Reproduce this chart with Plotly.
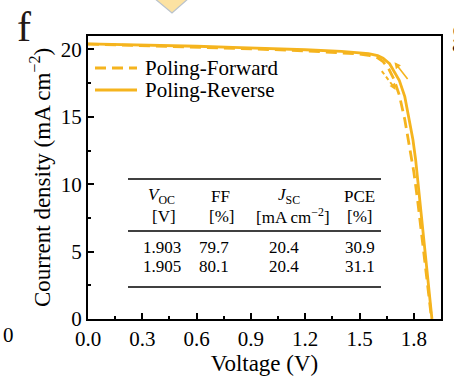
import plotly.graph_objects as go

# ---- data ----
v_reverse = [0, 0.2, 0.4, 0.6, 0.8, 1.0, 1.2, 1.4, 1.5, 1.55, 1.6, 1.63, 1.666, 1.7,
             1.72, 1.75, 1.776, 1.795, 1.81, 1.831, 1.85, 1.868, 1.885, 1.9]
j_reverse = [20.42, 20.37, 20.31, 20.24, 20.16, 20.08, 19.98, 19.86, 19.77, 19.7, 19.55,
             19.35, 18.94, 18.2, 17.7, 16.5, 14.7, 13.3, 11.8, 9.06, 6.7, 4.1, 2.0, 0]

v_forward = [0, 0.2, 0.4, 0.6, 0.8, 1.0, 1.2, 1.4, 1.5, 1.55, 1.6, 1.63, 1.66, 1.69,
             1.72, 1.75, 1.78, 1.8, 1.82, 1.84, 1.86, 1.88, 1.898]
j_forward = [20.4, 20.33, 20.26, 20.18, 20.09, 20.0, 19.9, 19.76, 19.66, 19.57, 19.38,
             19.1, 18.6, 17.8, 16.6, 14.8, 12.6, 10.9, 8.9, 6.7, 4.5, 2.3, 0]

series_names = ["Poling-Forward", "Poling-Reverse"]

table_header1 = ["<i>V</i><sub>OC</sub>", "FF", "<i>J</i><sub>SC</sub>", "PCE"]
table_header2 = ["[V]", "[%]", "[mA cm<sup>\u22122</sup>]", "[%]"]
table_rows = [["1.903", "79.7", "20.4", "30.9"],
              ["1.905", "80.1", "20.4", "31.1"]]

x_ticks = [0.0, 0.3, 0.6, 0.9, 1.2, 1.5, 1.8]
x_ticklabels = ["0.0", "0.3", "0.6", "0.9", "1.2", "1.5", "1.8"]
y_ticks = [0, 5, 10, 15, 20]

# ---- style ----
COL = "#F5B41E"
FONT = "Times New Roman, Liberation Serif, serif"
W, H = 454, 390
L, R, T, B = 88, 13, 36, 71
PW, PH = W - L - R, H - T - B


def px(xp):
    return (xp - L) / PW


def py(yp):
    return (H - B - yp) / PH


fig = go.Figure()
fig.add_trace(go.Scatter(x=v_forward, y=j_forward, mode="lines", name=series_names[0],
                         line=dict(color=COL, width=2.8, dash="11px,6px"),
                         showlegend=False))
fig.add_trace(go.Scatter(x=v_reverse, y=j_reverse, mode="lines", name=series_names[1],
                         line=dict(color=COL, width=2.8), showlegend=False))

ann = []
shapes = []

# legend (drawn by hand so the line samples match the reference length)
for k, (yp, dash) in enumerate([(68, "11px,6px"), (90, "solid")]):
    shapes.append(dict(type="line", xref="paper", yref="paper", x0=px(95), x1=px(137),
                       y0=py(yp), y1=py(yp), line=dict(color=COL, width=2.8, dash=dash)))
    ann.append(dict(x=px(143), y=py(yp), xref="paper", yref="paper", text=series_names[k],
                    showarrow=False, font=dict(family=FONT, size=21, color="black"),
                    xanchor="left", yanchor="middle"))

# scan-direction arrows
ann.append(dict(x=1.693, y=19.06, ax=1.772, ay=17.7, xref="x", yref="y", axref="x", ayref="y",
                showarrow=True, arrowhead=2, arrowsize=0.8, arrowwidth=1.6, arrowcolor=COL,
                standoff=0, text=""))
shapes.append(dict(type="line", xref="x", yref="y", x0=1.623, y0=18.4, x1=1.69, y1=17.2,
                   line=dict(color=COL, width=2, dash="4px,3px")))
ann.append(dict(x=1.699, y=17.0, ax=1.688, ay=17.25, xref="x", yref="y", axref="x", ayref="y",
                showarrow=True, arrowhead=2, arrowsize=0.8, arrowwidth=1.6, arrowcolor=COL,
                standoff=0, text=""))

# table rules
for yp, wdt in [(179, 1.6), (231, 1.4), (287, 1.6)]:
    shapes.append(dict(type="line", xref="paper", yref="paper", x0=px(128), x1=px(381),
                       y0=py(yp), y1=py(yp), line=dict(color="black", width=wdt)))

tf = dict(family=FONT, size=17, color="black")
h1_x = [161, 220, 289, 359]
h2_x = [164, 221, 293, 359]
d_x = [162, 214, 284, 360]
for i in range(4):
    ann.append(dict(x=px(h1_x[i]), y=py(196), xref="paper", yref="paper", text=table_header1[i],
                    showarrow=False, font=tf, xanchor="center", yanchor="middle"))
    ann.append(dict(x=px(h2_x[i]), y=py(216), xref="paper", yref="paper", text=table_header2[i],
                    showarrow=False, font=tf, xanchor="center", yanchor="middle"))
    for r, yp in enumerate([247, 266]):
        ann.append(dict(x=px(d_x[i]), y=py(yp), xref="paper", yref="paper", text=table_rows[r][i],
                        showarrow=False, font=tf, xanchor="center", yanchor="middle"))

# panel letter and neighbour fragments
ann.append(dict(x=px(24), y=py(27), xref="paper", yref="paper", text="f", showarrow=False,
                font=dict(family=FONT, size=42, color="#231815"), xanchor="center", yanchor="middle"))
ann.append(dict(x=px(449), y=py(30), xref="paper", yref="paper", text="g", showarrow=False,
                font=dict(family=FONT, size=42, color="#231815"), xanchor="left", yanchor="middle"))
ann.append(dict(x=px(8), y=py(335), xref="paper", yref="paper", text="0", showarrow=False,
                font=dict(family=FONT, size=21, color="black"), xanchor="center", yanchor="middle"))
shapes.append(dict(type="path", xref="paper", yref="paper",
                   path=f"M {px(154)} {py(-2)} L {px(172)} {py(13)} L {px(189)} {py(-2)} Z",
                   fillcolor="#FCE2A2", line=dict(color="#B9C2CC", width=1.2)))

fig.update_layout(
    width=W, height=H,
    margin=dict(l=L, r=R, t=T, b=B, pad=0, autoexpand=False),
    paper_bgcolor="white", plot_bgcolor="white",
    font=dict(family=FONT, color="black"),
    showlegend=False,
    annotations=ann,
    shapes=shapes,
)
fig.update_xaxes(range=[0, 1.95], tickvals=x_ticks, ticktext=x_ticklabels, automargin=False,
                 ticks="inside", ticklen=6, tickwidth=2, tickcolor="black",
                 minor=dict(ticks="inside", ticklen=3, tickwidth=2, dtick=0.15, tick0=0,
                            tickcolor="black"),
                 showline=True, linewidth=2.2, linecolor="black", mirror=True,
                 showgrid=False, zeroline=False,
                 tickfont=dict(family=FONT, size=21),
                 title=dict(text="Voltage (V)", font=dict(family=FONT, size=23), standoff=4))
fig.update_yaxes(range=[0, 21], tickvals=y_ticks, automargin=False,
                 ticks="inside", ticklen=6, tickwidth=2, tickcolor="black",
                 minor=dict(ticks="inside", ticklen=3, tickwidth=2, dtick=2.5, tick0=0,
                            tickcolor="black"),
                 showline=True, linewidth=2.2, linecolor="black", mirror=True,
                 showgrid=False, zeroline=False,
                 tickfont=dict(family=FONT, size=21),
                 title=dict(text="Courrent density (mA cm<sup>\u22122</sup>)",
                            font=dict(family=FONT, size=23), standoff=4))

fig.write_html(
    "out.html",
    config={"displayModeBar": False},
    post_script="document.body.style.margin='0';document.body.style.overflow='hidden';"
                "document.documentElement.style.overflow='hidden';",
)
